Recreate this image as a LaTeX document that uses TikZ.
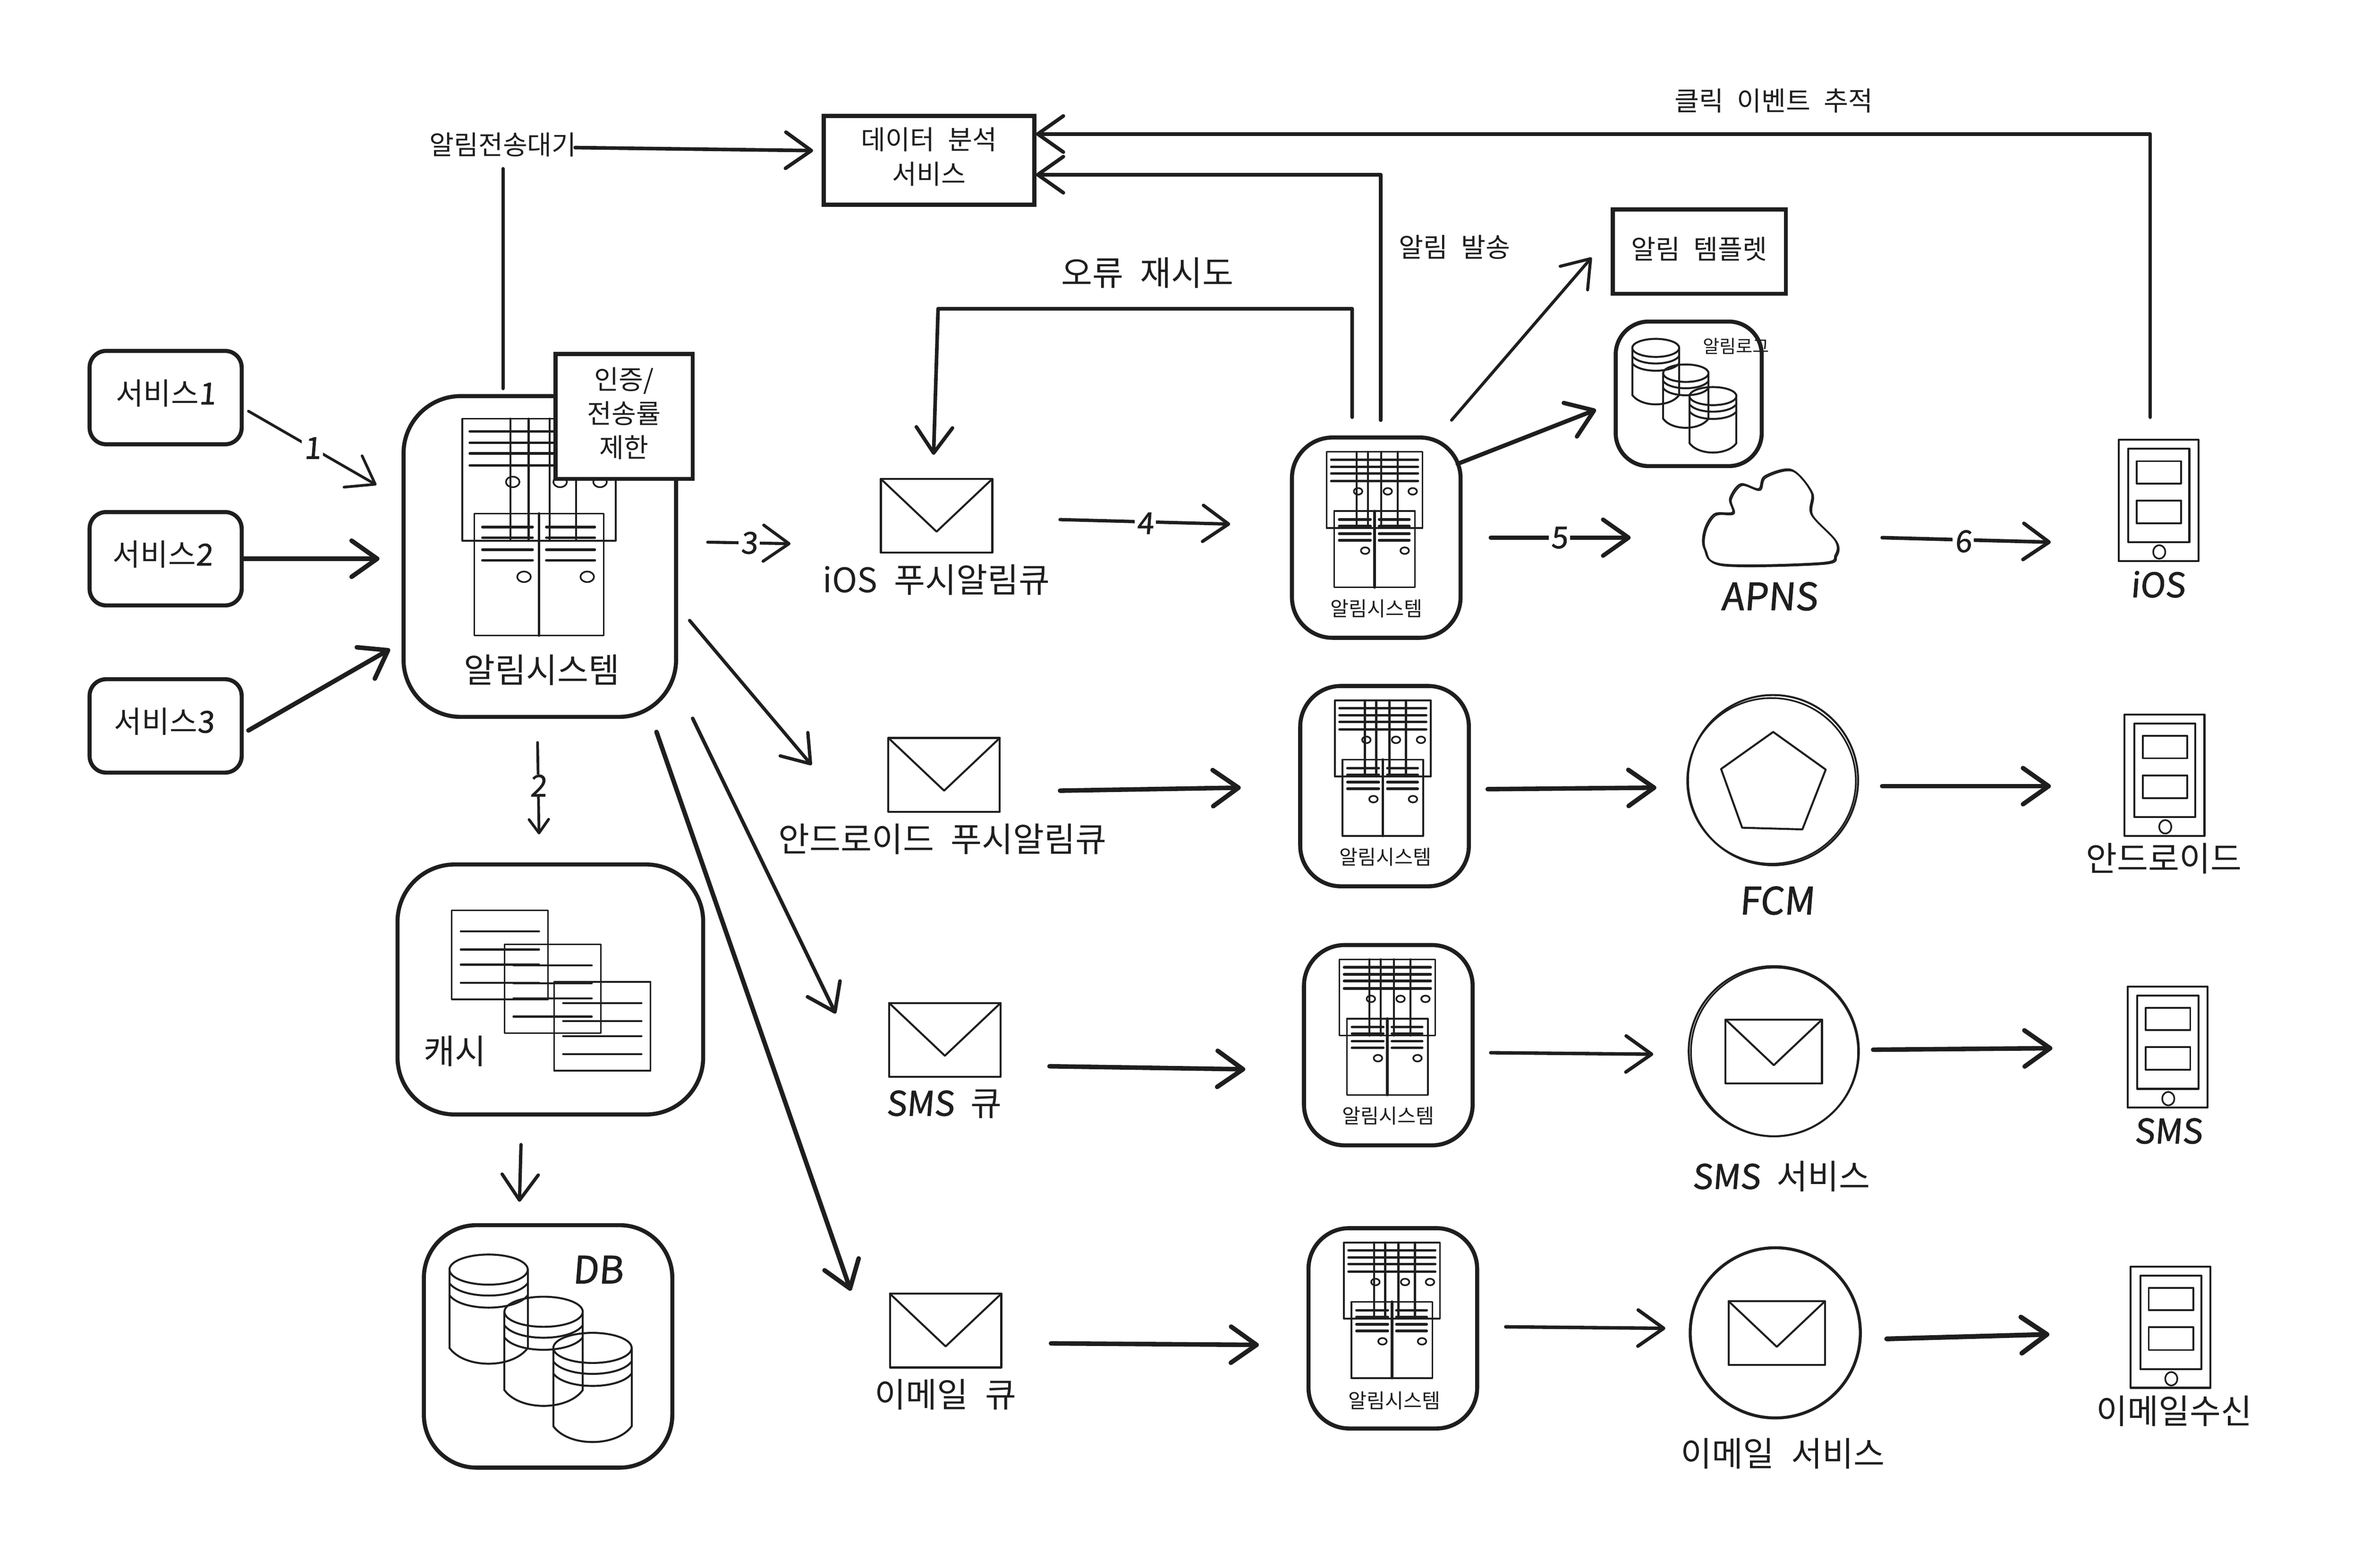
\documentclass[tikz,border=0pt]{standalone}
\usepackage{fontspec}
\setmainfont[WordSpace=2.2]{Noto Sans CJK KR}
\newfontfamily\handf[FakeBold=1.2,FakeSlant=.08]{Noto Sans CJK KR}
\usetikzlibrary{arrows.meta}
\definecolor{ink}{HTML}{1E1E1E}
\newcommand{\fsz}[1]{\fontsize{#1}{#1}\selectfont}
\tikzset{
  every node/.style={text=ink,inner sep=0pt},
  ln/.style={draw=ink,line width=1.1pt,line cap=round,line join=round},
  bar/.style={draw=ink,line width=1.7pt,line cap=round},
  rbox/.style={draw=ink,line width=2.7pt,rounded corners=#1,fill=none},
  sqbox/.style={draw=ink,line width=2.7pt,fill=white},
  arr/.style={draw=ink,line width=#1,line cap=round,line join=round,
    -{Straight Barb[length=17pt,width=24pt,round]}},
  arr/.default=2.2pt,
  smallarr/.style={draw=ink,line width=#1,line cap=round,line join=round,
    -{Straight Barb[length=9pt,width=13pt,round]}},
  lab/.style={fill=white,font=\handf\fsz{20},inner xsep=1.5pt,inner ysep=0pt},
  t13/.style={font=\fsz{13.3}},
  t17/.style={font=\fsz{17.7}},
  t20/.style={font=\fsz{20}},
  t22/.style={font=\fsz{22.5}},
  hand/.style={font=\handf\fsz{#1}},
}
\newcommand{\serverIcon}[3]{%
\begin{scope}[shift={(#1,#2)},scale=#3]
  \draw[ln] (0,0) rectangle (102,81);
  \foreach \vx in {32,44,58,75.6} \draw[ln,line width=1.4pt] (\vx,0) -- (\vx,81);
  \foreach \hy in {8.4,16,23,31} \draw[bar] (5,\hy) -- (97,\hy);
  \foreach \kx in {33.5,65,91.5} \draw[ln] (\kx,42) ellipse [x radius=4.5,y radius=3.5];
  \begin{scope}[shift={(8,63)}]
    \draw[ln] (0,0) rectangle (86,81);
    \draw[ln,line width=1.8pt] (43,0) -- (43,81);
    \foreach \hy in {9,16,24,31} {
      \draw[bar] (5.4,\hy) -- (38.7,\hy);
      \draw[bar] (47.8,\hy) -- (80,\hy);
    }
    \foreach \kx in {33,75} \draw[ln] (\kx,42) ellipse [x radius=4.5,y radius=3.5];
  \end{scope}
\end{scope}}
\newcommand{\cylIcon}[3]{%
\begin{scope}[shift={(#1,#2)},scale=#3]
  \draw[ln,line width=1.3pt] (26,10) ellipse [x radius=26,y radius=10];
  \draw[ln,line width=1.3pt] (0,10) -- (0,62) (52,10) -- (52,62);
  \draw[ln,line width=1.3pt] (0,19) .. controls (8,30) and (44,30) .. (52,19);
  \draw[ln,line width=1.3pt] (0,27) .. controls (8,38) and (44,38) .. (52,27);
  \draw[ln,line width=1.3pt] (0,62) .. controls (10,76) and (42,76) .. (52,62);
\end{scope}}
\newcommand{\docIcon}[2]{%
\begin{scope}[shift={(#1,#2)}]
  \draw[ln] (0,0) rectangle (64,59);
  \foreach \hy in {14,26,36,48} \draw[ln,line width=1.3pt] (6,\hy) -- (58,\hy);
\end{scope}}
\newcommand{\envIcon}[3]{%
\begin{scope}[shift={(#1,#2)},scale=#3]
  \draw[ln,line width=1.3pt] (0,0) rectangle (74,49);
  \draw[ln,line width=1.3pt] (0,0) -- (37,35) -- (74,0);
\end{scope}}
\newcommand{\phoneIcon}[2]{%
\begin{scope}[shift={(#1,#2)}]
  \draw[ln,line width=1.3pt] (0,0) rectangle (53,80.5);
  \draw[ln,line width=1.3pt] (6.4,6) rectangle (47,68);
  \draw[ln,line width=1.2pt] (12,14.2) rectangle (41.6,29);
  \draw[ln,line width=1.2pt] (12,40.3) rectangle (41.6,55.4);
  \draw[ln] (27,74.5) ellipse [x radius=4,y radius=4.5];
\end{scope}}
\begin{document}
\begin{tikzpicture}[x=1pt,y=-1pt]
\useasboundingbox (0,0) rectangle (1568,1041);
\fill[white] (0,0) rectangle (1568,1041);

% services
\node[rbox=11pt,minimum width=101pt,minimum height=62pt] (svc1) at (110,264) {};
\node[t20] (svc1l) at (110,261) {서비스{\handf 1}};
\node[rbox=11pt,minimum width=101pt,minimum height=62pt] (svc2) at (110,371) {};
\node[t20] (svc2l) at (108,368) {서비스{\handf 2}};
\node[rbox=11pt,minimum width=101pt,minimum height=62pt] (svc3) at (110,482) {};
\node[t20] (svc3l) at (109,479) {서비스{\handf 3}};

% main notification system
\node[rbox=38pt,minimum width=181pt,minimum height=213pt] (main) at (358.5,369.5) {};
\serverIcon{307}{278}{1}
\node[t22] (mainlab) at (360,445) {알림시스템};
\node[sqbox,minimum width=91pt,minimum height=83pt] (auth) at (414.5,276.5) {};
\node[align=center,font={\fontsize{17.7}{22.7}\selectfont}] (authl) at (414.5,274.5) {인증/\\전송률\\제한};

% analytics
\node[t17] (wait) at (334,96) {알림전송대기};
\node[sqbox,minimum width=140pt,minimum height=59pt] (analytics) at (617,106.5) {};
\node[align=center,font={\fontsize{17.7}{23}\selectfont}] (analyticsl) at (617,104) {데이터 분석\\서비스};
\node[t17] (clicklab) at (1178,67) {클릭 이벤트 추적};
\node[t17] (sendlab) at (966,164) {알림 발송};
\node[t22] (retrylab) at (762,181) {오류 재시도};
\node[sqbox,minimum width=115pt,minimum height=56pt] (tmpl) at (1128.5,167) {};
\node[t17] (tmpll) at (1128.5,165.5) {알림 템플렛};

% log
\node[rbox=22pt,minimum width=97pt,minimum height=96pt] (log) at (1121.5,261.5) {};
\cylIcon{1084}{225}{.6}
\cylIcon{1104.5}{242}{.58}
\cylIcon{1122}{257}{.6}
\node[font=\fsz{12}] (loglab) at (1153,230) {알림로그};

% cache
\node[rbox=38pt,minimum width=203pt,minimum height=166pt] (cache) at (365.5,657) {};
\docIcon{300}{604.5}
\docIcon{335}{627}
\docIcon{368}{652}
\node[t22] (cachelab) at (302,698) {캐시};

% db
\node[rbox=35pt,minimum width=165pt,minimum height=161pt] (db) at (364,894) {};
\cylIcon{298.5}{833}{1}
\cylIcon{335}{861}{1}
\cylIcon{367.5}{885}{1}
\node[hand=25] (dblab) at (397,843) {DB};

% queues
\envIcon{585}{318}{1}
\node[t22] (q1) at (622,385) {iOS 푸시알림큐};
\envIcon{590}{490}{1}
\node[t22] (q2) at (626,557) {안드로이드 푸시알림큐};
\envIcon{590.5}{666}{1}
\node[t22] (q3) at (627,733) {{\handf SMS} 큐};
\envIcon{591}{859}{1}
\node[t22] (q4) at (628,926) {이메일 큐};

% workers
\node[rbox=27pt,minimum width=112pt,minimum height=133pt] (w1) at (914,357) {};
\serverIcon{881}{300}{.625}
\node[t13] (w1l) at (914,404) {알림시스템};
\node[rbox=27pt,minimum width=112pt,minimum height=133pt] (w2) at (919.5,522) {};
\serverIcon{886.5}{465}{.625}
\node[t13] (w2l) at (920,569) {알림시스템};
\node[rbox=27pt,minimum width=112pt,minimum height=133pt] (w3) at (922,694) {};
\serverIcon{889.5}{637}{.625}
\node[t13] (w3l) at (922,741) {알림시스템};
\node[rbox=27pt,minimum width=112pt,minimum height=133pt] (w4) at (925,882) {};
\serverIcon{892.5}{825}{.625}
\node[t13] (w4l) at (926,930) {알림시스템};

% third party services
\draw[ln,line width=1.2pt] plot[smooth cycle,tension=.55] coordinates {(1144,374.8) (1132,364.4) (1132,352) (1138.6,341.4) (1150.7,340.3) (1148.9,331) (1156,321.5) (1168,324.7) (1172,316.3) (1189.7,312) (1203,326.8) (1203,341.4) (1219,359) (1219,368.5) (1210,373.8)};
\draw[ln,line width=.9pt,shift={(.8,.8)}] plot[smooth cycle,tension=.55] coordinates {(1144,374.8) (1132,364.4) (1132,352) (1138.6,341.4) (1150.7,340.3) (1148.9,331) (1156,321.5) (1168,324.7) (1172,316.3) (1189.7,312) (1203,326.8) (1203,341.4) (1219,359) (1219,368.5) (1210,373.8)};
\node[hand=25] (apns) at (1175,396) {APNS};

\node[draw=ink,line width=1.3pt,circle,minimum size=113pt] (fcmc) at (1177.5,518) {};
\draw[ln] (1176.5,518.5) ellipse [x radius=56,y radius=55];
\draw[ln,line width=1.3pt] (1177.6,486) -- (1212.5,511) -- (1197,550.7) -- (1157,549.6) -- (1143,510.6) -- cycle;
\node[hand=25] (fcm) at (1180,598) {FCM};

\node[draw=ink,line width=1.3pt,circle,minimum size=113pt] (smsc) at (1178,698) {};
\draw[ln] (1178.5,698.5) ellipse [x radius=55.5,y radius=56];
\envIcon{1146}{677}{.865}
\node[t22] (smslab) at (1183,781) {{\handf SMS} 서비스};

\node[draw=ink,line width=2pt,circle,minimum size=113pt] (mailc) at (1179,885) {};
\envIcon{1148}{864}{.865}
\node[t22] (maillab) at (1184,965) {이메일 서비스};

% devices
\phoneIcon{1407}{292}
\node[hand=22.5] (d1) at (1433,388) {iOS};
\phoneIcon{1411}{474.5}
\node[t22] (d2) at (1437,570) {안드로이드};
\phoneIcon{1413}{655}
\node[hand=22.5] (d3) at (1440,751) {SMS};
\phoneIcon{1415}{841}
\node[t22] (d4) at (1444,937) {이메일수신};

% connector ends
\coordinate (s1a) at (165,273); \coordinate (s1b) at (250,322);
\coordinate (s2a) at (161,371); \coordinate (s2b) at (252,371);
\coordinate (s3a) at (165,485); \coordinate (s3b) at (259,431);
\coordinate (waitdown) at (334,258); \coordinate (waitup) at (334,112);
\coordinate (waita) at (382,98); \coordinate (waitb) at (540,100);
\coordinate (clicka) at (1428,277); \coordinate (clickb) at (688,89);
\coordinate (senda) at (917,279); \coordinate (sendb) at (688,116);
\coordinate (retrya) at (898,277); \coordinate (retryc) at (623,205); \coordinate (retryb) at (620,302);
\coordinate (tma) at (964,279); \coordinate (tmb) at (1057,171);
\coordinate (loga) at (968,308); \coordinate (logb) at (1060,272);
\coordinate (m3a) at (470,360); \coordinate (m3b) at (525,361);
\coordinate (m2a) at (357,493); \coordinate (m2b) at (358,554);
\coordinate (cda) at (346,760); \coordinate (cdb) at (345,798);
\coordinate (maa) at (458,412); \coordinate (mab) at (539,508);
\coordinate (msa) at (460,477); \coordinate (msb) at (555,673);
\coordinate (mea) at (436,486); \coordinate (meb) at (565,857);
\coordinate (c4a) at (704,345); \coordinate (c4b) at (817,348);
\coordinate (c4c) at (704,525); \coordinate (c4d) at (824,523);
\coordinate (c4e) at (697,708); \coordinate (c4f) at (827,710);
\coordinate (c4g) at (698,892); \coordinate (c4h) at (836,893);
\coordinate (c5a) at (990,357); \coordinate (c5b) at (1083,357);
\coordinate (c5c) at (988,524); \coordinate (c5d) at (1100,523);
\coordinate (c5e) at (990,699); \coordinate (c5f) at (1098,700);
\coordinate (c5g) at (1000,881); \coordinate (c5h) at (1106,882);
\coordinate (c6a) at (1250,357); \coordinate (c6b) at (1362,360);
\coordinate (c6c) at (1250,522); \coordinate (c6d) at (1362,522);
\coordinate (c6e) at (1244,697); \coordinate (c6f) at (1363,696);
\coordinate (c6g) at (1253,889); \coordinate (c6h) at (1361,886);

% connectors
\draw[arr=1.8pt] (s1a) -- node[lab,pos=.5]{1} (s1b);
\draw[arr=3pt] (s2a) -- (s2b);
\draw[arr=3pt] (s3a) -- (s3b);
\draw[draw=ink,line width=2.2pt,line cap=round] (waitdown) -- (waitup);
\draw[arr=2.4pt] (waita) -- (waitb);
\draw[arr=2.4pt] (clicka) |- (clickb);
\draw[arr=2.4pt] (senda) |- (sendb);
\draw[arr=2.4pt] (retrya) |- (retryc) -- (retryb);
\draw[arr=2pt] (tma) -- (tmb);
\draw[arr=2.8pt] (loga) -- (logb);
\draw[arr=2pt] (m3a) -- node[lab,pos=.5]{3} (m3b);
\draw[smallarr=1.8pt] (m2a) -- node[lab,pos=.47]{2} (m2b);
\draw[arr=2.2pt] (cda) -- (cdb);
\draw[arr=2.2pt] (maa) -- (mab);
\draw[arr=2.4pt] (msa) -- (msb);
\draw[arr=3pt] (mea) -- (meb);
\draw[arr=2.2pt] (c4a) -- node[lab,pos=.5,yshift=-1pt]{4} (c4b);
\draw[arr=3pt] (c4c) -- (c4d);
\draw[arr=3pt] (c4e) -- (c4f);
\draw[arr=3pt] (c4g) -- (c4h);
\draw[arr=2.8pt] (c5a) -- node[lab,pos=.49]{5} (c5b);
\draw[arr=3pt] (c5c) -- (c5d);
\draw[arr=2.3pt] (c5e) -- (c5f);
\draw[arr=2.3pt] (c5g) -- (c5h);
\draw[arr=2.4pt] (c6a) -- node[lab,pos=.48,yshift=-1pt]{6} (c6b);
\draw[arr=3pt] (c6c) -- (c6d);
\draw[arr=3pt] (c6e) -- (c6f);
\draw[arr=3.2pt] (c6g) -- (c6h);
\end{tikzpicture}
\end{document}
